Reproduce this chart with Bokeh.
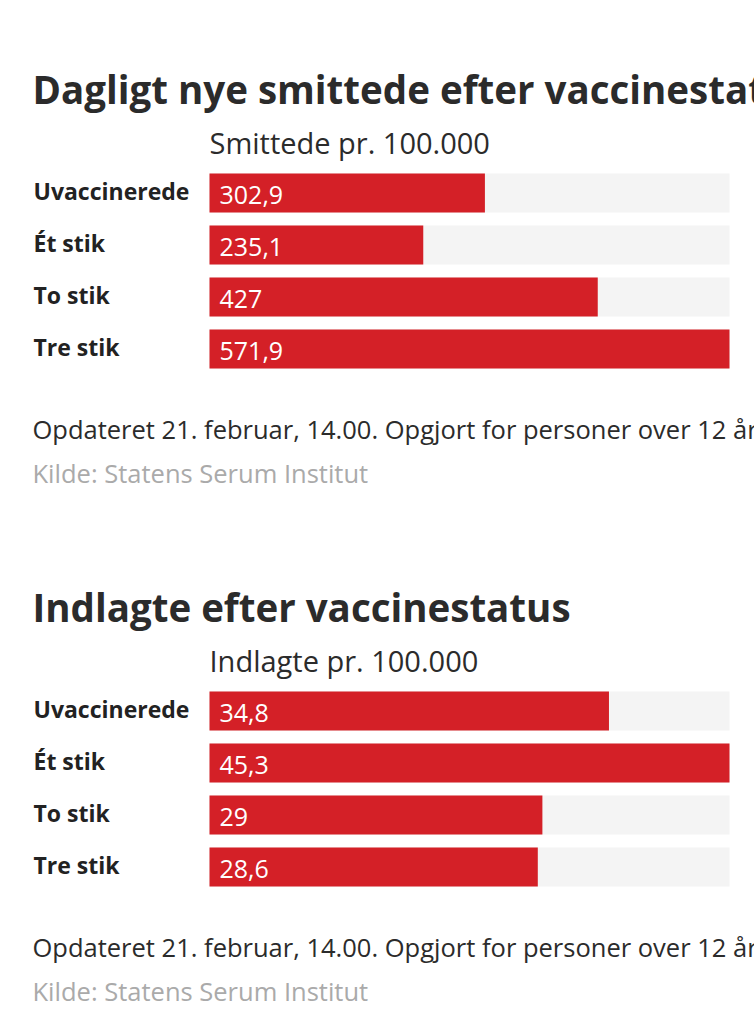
from bokeh.plotting import figure
from bokeh.models import Range1d, ColumnDataSource
from bokeh.core.properties import value
from bokeh.embed import file_html
from bokeh.resources import INLINE

# ---- data ----
categories = ["Uvaccinerede", "Ét stik", "To stik", "Tre stik"]
titles = ["Dagligt nye smittede efter vaccinestatus", "Indlagte efter vaccinestatus"]
subtitles = ["Smittede pr. 100.000", "Indlagte pr. 100.000"]
smittede = [302.9, 235.1, 427, 571.9]
indlagte = [34.8, 45.3, 29, 28.6]
note = "Opdateret 21. februar, 14.00. Opgjort for personer over 12 år"
source_txt = "Kilde: Statens Serum Institut"

W, H = 754, 1012
p = figure(width=W, height=H, output_backend="svg", toolbar_location=None,
           x_range=Range1d(0, W), y_range=Range1d(H, 0),
           min_border=0, outline_line_color=None)
p.axis.visible = False
p.grid.visible = False
p.background_fill_color = "white"
p.border_fill_color = "white"

FONT = value("Open Sans")
RED = "#d42027"
BAR_X0, BAR_X1 = 209, 729
BAR_H = 39
PITCH = 52

def fmt(v):
    s = ("%.1f" % v).rstrip("0").rstrip(".")
    return s.replace(".", ",")

def chart(idx, vals, off):
    M = max(vals)
    span = M * W / (BAR_X1 - BAR_X0)
    start = -BAR_X0 * span / W
    name = "v%d" % idx
    p.extra_x_ranges[name] = Range1d(start, start + span)
    ys = [192.5 + off + i * PITCH for i in range(len(vals))]
    src = ColumnDataSource(dict(cat=categories, val=vals, y=ys,
                                lab=[fmt(v) for v in vals],
                                full=[M] * len(vals), zero=[0] * len(vals),
                                ly=[y - 2.5 for y in ys], vy=[y + 2.2 for y in ys],
                                lx=[33] * len(vals), vx=[219] * len(vals)))
    p.hbar(y="y", left="zero", right="full", height=BAR_H, source=src,
           x_range_name=name, fill_color="#f4f4f4", line_color=None)
    p.hbar(y="y", left="zero", right="val", height=BAR_H, source=src,
           x_range_name=name, fill_color=RED, line_color=None)
    p.text(x="lx", y="ly", text="cat", source=src, text_font=FONT,
           text_font_style="bold", text_font_size="23px", text_color="#222222",
           text_baseline="middle")
    p.text(x="vx", y="vy", text="lab", source=src, text_font=FONT,
           text_font_size="25px", text_color="white", text_baseline="middle")
    p.text(x=[32], y=[88 + off], text=[titles[idx]], text_font=FONT,
           text_font_style="bold", text_font_size="38.5px", text_color="#2b2b2b",
           text_baseline="middle")
    p.text(x=[209], y=[142 + off], text=[subtitles[idx]], text_font=FONT,
           text_font_size="29px", text_color="#2b2b2b", text_baseline="middle")
    p.text(x=[32], y=[428 + off], text=[note], text_font=FONT,
           text_font_size="25.5px", text_color="#2b2b2b", text_baseline="middle")
    p.text(x=[32], y=[472 + off], text=[source_txt], text_font=FONT,
           text_font_size="25.5px", text_color="#aaaaaa", text_baseline="middle")

chart(0, smittede, 0)
chart(1, indlagte, 518)

open("out.html", "w").write(file_html(p, INLINE))
